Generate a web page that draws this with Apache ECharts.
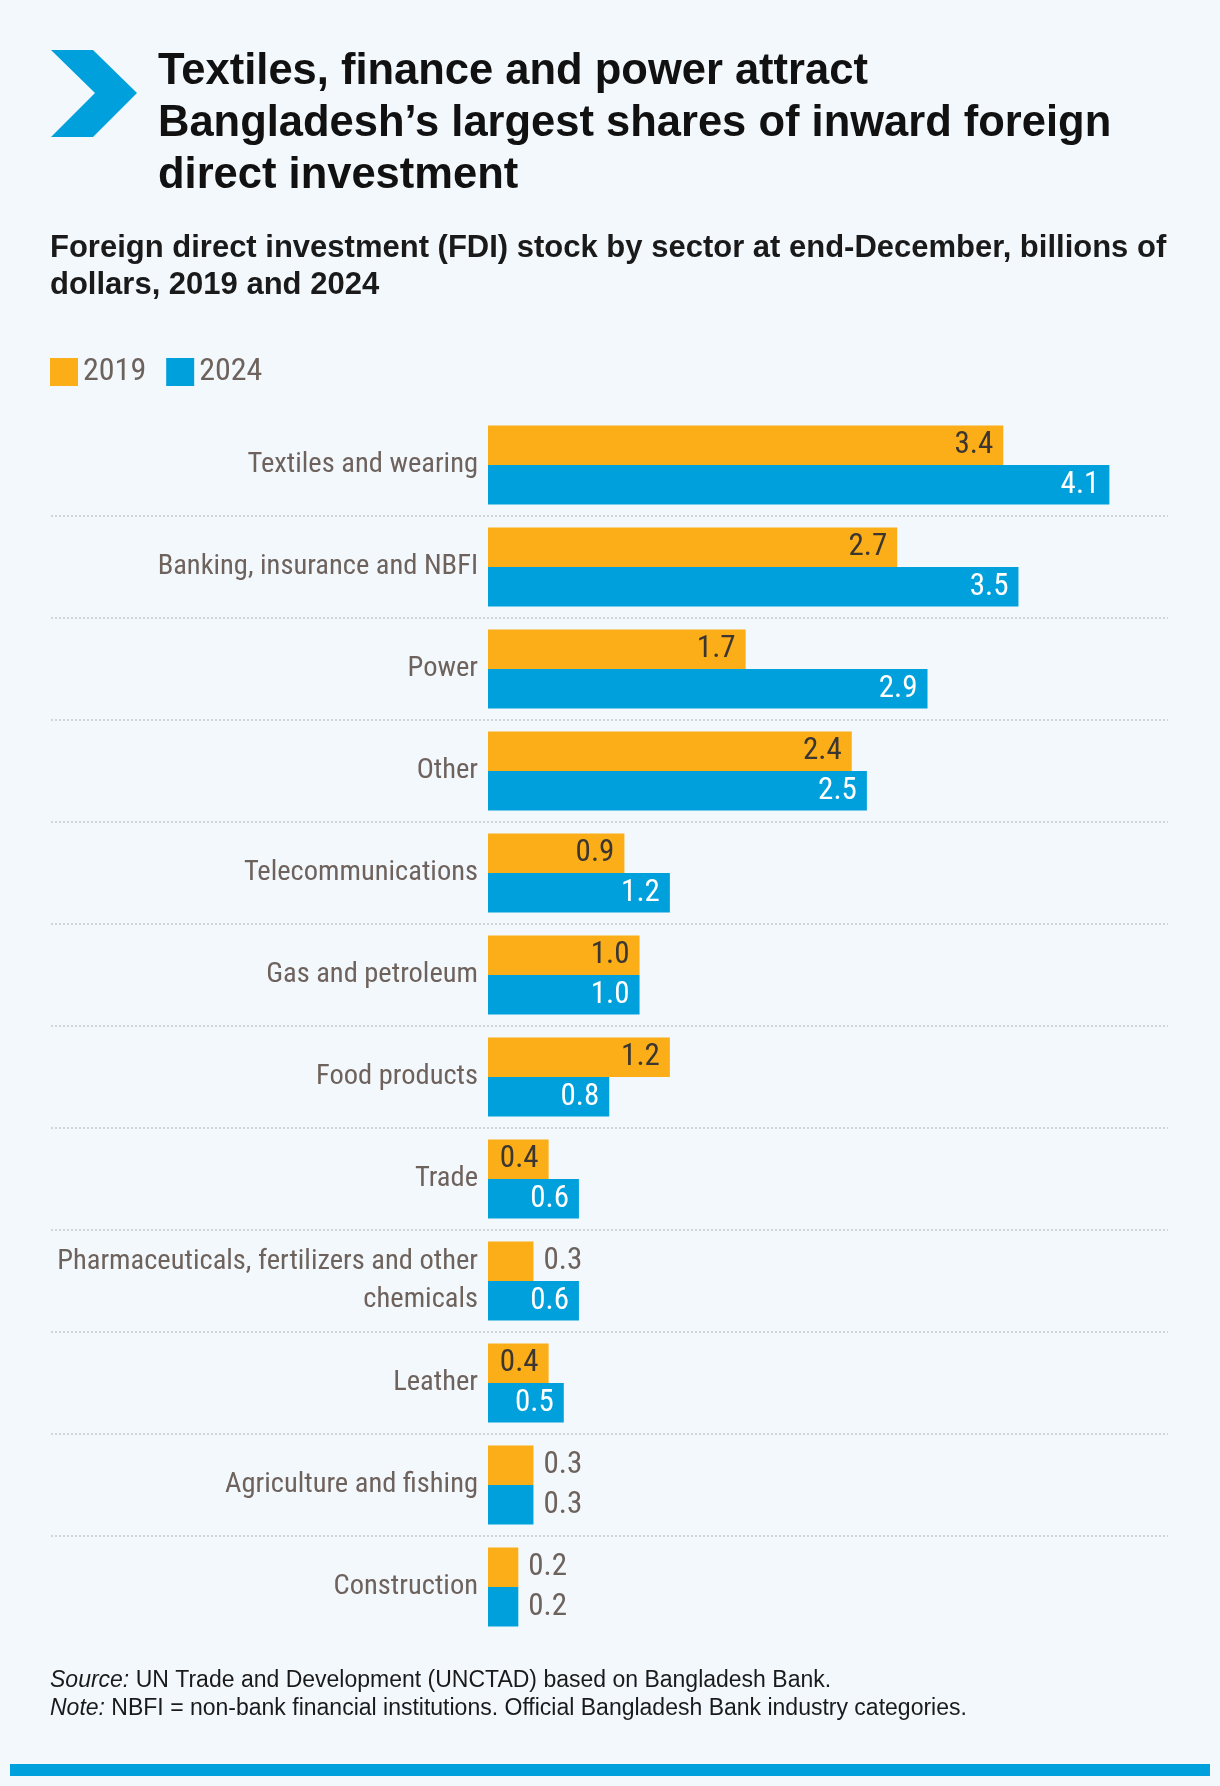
<!DOCTYPE html>
<html>
<head>
<meta charset="utf-8">
<script src="https://cdn.jsdelivr.net/npm/echarts@6/dist/echarts.min.js"></script>
<style>
  html, body { margin: 0; padding: 0; background: #f3f8fd; }
  #chart { width: 1220px; height: 1786px; }
</style>
</head>
<body>
<div id="chart"></div>
<script>
const sectors = [
  "Textiles and wearing",
  "Banking, insurance and NBFI",
  "Power",
  "Other",
  "Telecommunications",
  "Gas and petroleum",
  "Food products",
  "Trade",
  "Pharmaceuticals, fertilizers and other\nchemicals",
  "Leather",
  "Agriculture and fishing",
  "Construction",
];
const fdi2019 = [3.4, 2.7, 1.7, 2.4, 0.9, 1.0, 1.2, 0.4, 0.3, 0.4, 0.3, 0.2];
const fdi2024 = [4.1, 3.5, 2.9, 2.5, 1.2, 1.0, 0.8, 0.6, 0.6, 0.5, 0.3, 0.2];
// bars too short to hold their label get it outside instead
const outside2019 = [false, false, false, false, false, false, false, false, true, false, true, true];
const outside2024 = [false, false, false, false, false, false, false, false, false, false, true, true];

const NARROW = "'Liberation Sans Narrow', 'Roboto Condensed', 'DejaVu Sans Condensed', sans-serif";
const SANS = "'Liberation Sans', Arial, Helvetica, sans-serif";
const GREY = "#6e625c";
const ORANGE = "#fbae17";
const BLUE = "#00a0dc";

function barData(values, outside, insideColor) {
  return values.map((v, i) => ({
    value: v,
    label: outside[i]
      ? { position: "right", distance: 10, color: GREY }
      : { position: "insideRight", distance: 10, color: insideColor },
  }));
}

const chart = echarts.init(document.getElementById("chart"));

chart.setOption({
  backgroundColor: "#f3f8fd",
  animation: false,
  title: [
    {
      text: "Textiles, finance and power attract\nBangladesh\u2019s largest shares of inward foreign\ndirect investment",
      left: 158,
      top: 46,
      padding: 0,
      textStyle: { fontFamily: SANS, fontSize: 43.5, fontWeight: "bold", color: "#111", lineHeight: 52 },
    },
    {
      text: "Foreign direct investment (FDI) stock by sector at end-December, billions of\ndollars, 2019 and 2024",
      left: 50,
      top: 230,
      padding: 0,
      textStyle: { fontFamily: SANS, fontSize: 31, fontWeight: "bold", color: "#1a1a1a", lineHeight: 37 },
    },
    {
      text: "{i|Source:} UN Trade and Development (UNCTAD) based on Bangladesh Bank.\n{i|Note:} NBFI = non-bank financial institutions. Official Bangladesh Bank industry categories.",
      left: 50,
      top: 1667,
      padding: 0,
      textStyle: {
        fontFamily: SANS, fontSize: 23, fontWeight: "normal", color: "#1a1a1a", lineHeight: 28,
        rich: { i: { fontFamily: SANS, fontSize: 23, fontWeight: "normal", fontStyle: "italic", color: "#1a1a1a", lineHeight: 28 } },
      },
    },
  ],
  legend: {
    data: ["2019", "2024"],
    left: 50,
    top: 356,
    padding: 0,
    icon: "rect",
    itemWidth: 28,
    itemHeight: 28,
    itemGap: 20,
    textStyle: { fontFamily: NARROW, fontSize: 32, color: GREY },
  },
  graphic: [
    {
      type: "polygon",
      shape: { points: [[51, 50], [93, 50], [137, 93], [93, 137], [51, 137], [95, 93]] },
      style: { fill: BLUE },
    },
    {
      type: "rect",
      shape: { x: 10, y: 1764, width: 1200, height: 12 },
      style: { fill: BLUE },
    },
  ],
  grid: [
    { left: 488, top: 414, width: 682, height: 1224 },
    // separator grid: dotted rules between the sector rows
    { left: 51, top: 516, width: 1117, height: 1020 },
  ],
  xAxis: [
    { type: "value", gridIndex: 0, min: 0, max: 4.5, show: false },
    { type: "value", gridIndex: 1, min: 0, max: 1, show: false },
  ],
  yAxis: [
    {
      type: "category",
      gridIndex: 0,
      data: sectors,
      inverse: true,
      axisLine: { show: false },
      axisTick: { show: false },
      splitLine: { show: false },
      axisLabel: {
        margin: 10,
        fontFamily: NARROW,
        fontSize: 28.5,
        color: GREY,
        lineHeight: 38,
        align: "right",
      },
    },
    {
      type: "value",
      gridIndex: 1,
      min: 0,
      max: 10,
      interval: 1,
      axisLine: { show: false },
      axisTick: { show: false },
      axisLabel: { show: false },
      splitLine: { show: true, lineStyle: { color: "#c6c9cc", width: 1.5, type: [2, 2] } },
    },
  ],
  series: [
    {
      name: "2019",
      type: "bar",
      xAxisIndex: 0,
      yAxisIndex: 0,
      data: barData(fdi2019, outside2019, "#3b3632"),
      itemStyle: { color: ORANGE },
      barWidth: 39.5,
      barGap: "0%",
      label: {
        show: true,
        fontFamily: NARROW,
        fontSize: 31,
        formatter: (p) => p.value.toFixed(1),
      },
    },
    {
      name: "2024",
      type: "bar",
      xAxisIndex: 0,
      yAxisIndex: 0,
      data: barData(fdi2024, outside2024, "#ffffff"),
      itemStyle: { color: BLUE },
      barWidth: 39.5,
      barGap: "0%",
      label: {
        show: true,
        fontFamily: NARROW,
        fontSize: 31,
        formatter: (p) => p.value.toFixed(1),
      },
    },
  ],
});
</script>
</body>
</html>
